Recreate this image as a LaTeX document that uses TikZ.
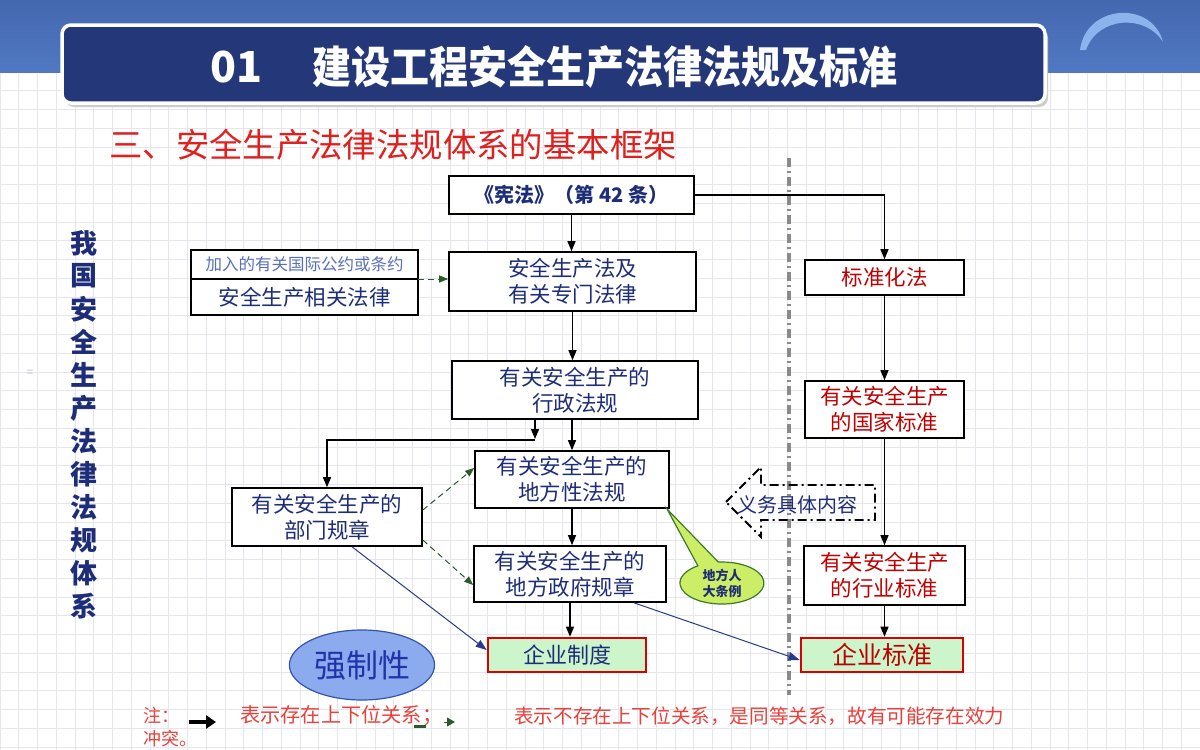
\documentclass[tikz,border=0pt]{standalone}
\usepackage{graphicx}
\usepackage{fontspec}
\setmainfont{Noto Sans CJK SC}
\usetikzlibrary{arrows.meta,shapes.geometric}
\definecolor{navy}{HTML}{1E2D78}
\definecolor{titlenavy}{HTML}{243879}
\definecolor{bandtop}{HTML}{4468B0}
\definecolor{bandbot}{HTML}{5078C2}
\definecolor{arcblue}{HTML}{8CB4EC}
\definecolor{gridc}{HTML}{E4E6EC}
\definecolor{subred}{HTML}{E0201E}
\definecolor{stdred}{HTML}{C00000}
\definecolor{notered}{HTML}{E8403A}
\definecolor{dgreen}{HTML}{2D5A2D}
\definecolor{lgreen}{HTML}{CCF5CC}
\definecolor{thinnavy}{HTML}{2A3A8A}
\definecolor{calloutfill}{HTML}{CCEE66}
\definecolor{calloutline}{HTML}{3C7A28}
\definecolor{ovalfill}{HTML}{8CAAEE}
\definecolor{ovalline}{HTML}{3355AA}
\definecolor{ovaltext}{HTML}{2233AA}
\definecolor{lightnavy}{HTML}{5A6FB8}
\definecolor{sepgrey}{HTML}{8A8A8A}
\newcommand\fsz[2]{\fontsize{#1}{#2}\selectfont}
\begin{document}
\begin{tikzpicture}[x=1pt,y=-1pt,
  boxst/.style={draw=black, line width=1.6pt, fill=white, align=center, text=navy, inner sep=0pt, font=\fsz{21.5}{26}},
  stdbox/.style={boxst, text=stdred},
  entbox/.style={draw=red!85!black, line width=2.6pt, fill=lgreen, align=center, inner sep=0pt},
  arr/.style={draw=black, line width=1.2pt, -{Triangle[length=10pt,width=8pt]}},
  dgarr/.style={draw=dgreen, line width=1pt, dashed, dash pattern=on 6pt off 4pt, -{Triangle[length=9pt,width=7pt]}},
  tnarr/.style={draw=thinnavy, line width=1pt, -{Triangle[length=11pt,width=8pt]}}
]
\useasboundingbox (0,0) rectangle (1200,750);
% background
\fill[white] (0,0) rectangle (1200,750);
\foreach \i in {0,...,64} \draw[gridc, line width=0.7pt] (\i*18.75,72) -- (\i*18.75,750);
\foreach \j in {0,...,37} \draw[gridc, line width=0.7pt] (0,72+\j*18.75) -- (1200,72+\j*18.75);
\shade[top color=bandtop, bottom color=bandbot] (0,0) rectangle (1200,72);
% arc decoration
\fill[arcblue] (1080,50) .. controls (1086,4) and (1152,0) .. (1163,42) .. controls (1146,14) and (1098,16) .. (1086,50) -- cycle;
% title bar
\fill[black!20, rounded corners=9pt] (65,29) rectangle (1048,107);
\draw[white, line width=3.5pt, fill=titlenavy, rounded corners=9pt] (62,25) rectangle (1045,103);
\node[text=white, inner sep=0pt] (t01) at (236,67) {\resizebox{52pt}{!}{\bfseries\fsz{34}{40}01}};
\node[text=white, inner sep=0pt] (ttl) at (605,67) {\resizebox{585pt}{38pt}{\bfseries\fsz{34}{40}建设工程安全生产法律法规及标准}};
% subtitle
\node[text=subred, font=\fsz{33.4}{38}, anchor=west, inner sep=0pt] (sub) at (109,145) {三、安全生产法律法规体系的基本框架};
% vertical title
\foreach \c [count=\k from 0] in {我,国,安,全,生,产,法,律,法,规,体,系}
  \node[text=navy, font=\bfseries\fsz{27}{30}, inner sep=0pt] (v\k) at (84,243+\k*33) {\c};
\node[text=black!25, font=\fsz{12}{14}, inner sep=0pt] (eqmark) at (30,373) {=};
% separator
\draw[sepgrey, line width=4pt, dash pattern=on 9pt off 4pt on 2pt off 4pt] (789,158) -- (789,695);
% boxes
\node[boxst, minimum width=245pt, minimum height=38pt, font=\bfseries\fsz{20}{24}] (xf) at (571.5,195) {《宪法》（第 42 条）};
\node[boxst, minimum width=247pt, minimum height=59pt] (aq) at (572.5,281.5) {安全生产法及\\有关专门法律};
\node[boxst, minimum width=227pt, minimum height=29pt, text=lightnavy, font=\fsz{16.5}{19}] (gj) at (304.5,264.5) {加入的有关国际公约或条约};
\node[boxst, minimum width=227pt, minimum height=36pt] (xg) at (304.5,297) {安全生产相关法律};
\node[boxst, minimum width=246pt, minimum height=58pt] (xz) at (575,390) {有关安全生产的\\行政法规};
\node[boxst, minimum width=194pt, minimum height=57pt] (df) at (572,479.5) {有关安全生产的\\地方性法规};
\node[boxst, minimum width=192pt, minimum height=56pt] (dz) at (570,574) {有关安全生产的\\地方政府规章};
\node[boxst, minimum width=190pt, minimum height=58pt] (bm) at (327,517) {有关安全生产的\\部门规章};
\node[entbox, minimum width=158pt, minimum height=34pt, text=navy, font=\fsz{22}{25}] (qz) at (567,655) {企业制度};
\node[stdbox, minimum width=159pt, minimum height=35pt] (bz) at (884.5,277.5) {标准化法};
\node[stdbox, minimum width=159pt, minimum height=57pt] (gb) at (884.5,409.5) {有关安全生产\\的国家标准};
\node[stdbox, minimum width=161pt, minimum height=59pt] (hy) at (884.5,575.5) {有关安全生产\\的行业标准};
\node[entbox, minimum width=162pt, minimum height=34pt, text=stdred, font=\fsz{25}{28}] (qb) at (882,655) {企业标准};
% main chain arrows
\draw[arr] (xf.south) -- (xf.south |- aq.north);
\draw[arr] (aq.south) -- (aq.south |- xz.north);
\draw[arr] (df.north |- xz.south) -- (df.north);
\draw[arr] (df.south) -- (df.south |- dz.north);
\draw[arr] (dz.south) -- (dz.south |- qz.north);
% right chain
\draw[arr] (xf.east) -| (bz.north);
\draw[arr] (bz.south) -- (gb.north);
\draw[arr] (gb.south) -- (hy.north);
\draw[arr] (hy.south) -- (hy.south |- qb.north);
% branch to 部门规章
\coordinate (brtop) at (535,419);
\coordinate (brjoin) at (535,440);
\draw[arr] (brtop) -- (535,439);
\draw[arr] (brjoin) -| (bm.north);
% dashed green arrows
\coordinate (gjr) at (418,279);
\draw[dgarr] (gjr) -- (aq.west |- gjr);
\draw[dgarr] (bm.east |- 0,510) -- (df.west |- 0,468);
\draw[dgarr] (bm.east |- 0,540) -- (dz.west |- 0,585);
% thin navy arrows
\draw[tnarr] (bm.south -| 352,0) -- (qz.west |- 0,650);
\draw[tnarr] (dz.south -| 634,0) -- (qb.west |- 0,660);
% callout
\coordinate (ctip) at (667,509);
\draw[calloutline, line width=1.2pt, fill=calloutfill] (697.9,565.8) -- (ctip) -- (718.3,562.1) arc[start angle=95, end angle=-235, x radius=42pt, y radius=21pt] -- cycle;
\node[text=navy, font=\bfseries\fsz{13}{16}, align=center, inner sep=0pt] (cl) at (722,583) {地方人\\大条例};
% hollow dash-dot arrow
\draw[black, line width=1.8pt, dash pattern=on 9pt off 4pt on 2pt off 4pt, line join=miter] (726,502) -- (761,467) -- (761,485) -- (875,485) -- (875,520) -- (761,520) -- (761,537) -- cycle;
\node[text=navy, font=\fsz{20}{24}, inner sep=0pt] (yw) at (797,505) {义务具体内容};
% oval
\node[ellipse, draw=ovalline, line width=1.2pt, fill=ovalfill, minimum width=124pt, minimum height=70pt, text=ovaltext, font=\fsz{32}{36}] (qzx) at (362,665) {强制性};
% notes
\node[text=notered, font=\fsz{18}{21}, anchor=west, inner sep=0pt] (n1) at (143,716) {注：};
\coordinate (ba1) at (189,722);
\coordinate (ba2) at (216,722);
\draw[black, line width=4pt, -{Triangle[length=10pt,width=13pt]}] (ba1) -- (ba2);
\node[text=notered, font=\fsz{20.2}{22}, anchor=west, inner sep=0pt] (n2) at (240,716) {表示存在上下位关系；};
\coordinate (ga1) at (414,726);
\coordinate (ga2) at (426,726);
\coordinate (ga3) at (444,722);
\coordinate (ga4) at (455,722);
\draw[dgreen, line width=3pt] (ga1) -- (ga2);
\draw[dgreen, line width=1pt, -{Triangle[length=8pt,width=9pt]}] (ga3) -- (ga4);
\node[text=notered, font=\fsz{19.6}{22}, anchor=west, inner sep=0pt] (n3) at (514,716) {表示不存在上下位关系，是同等关系，故有可能存在效力};
\node[text=notered, font=\fsz{18}{21}, anchor=west, inner sep=0pt] (n4) at (143,739) {冲突。};
\end{tikzpicture}
\end{document}
